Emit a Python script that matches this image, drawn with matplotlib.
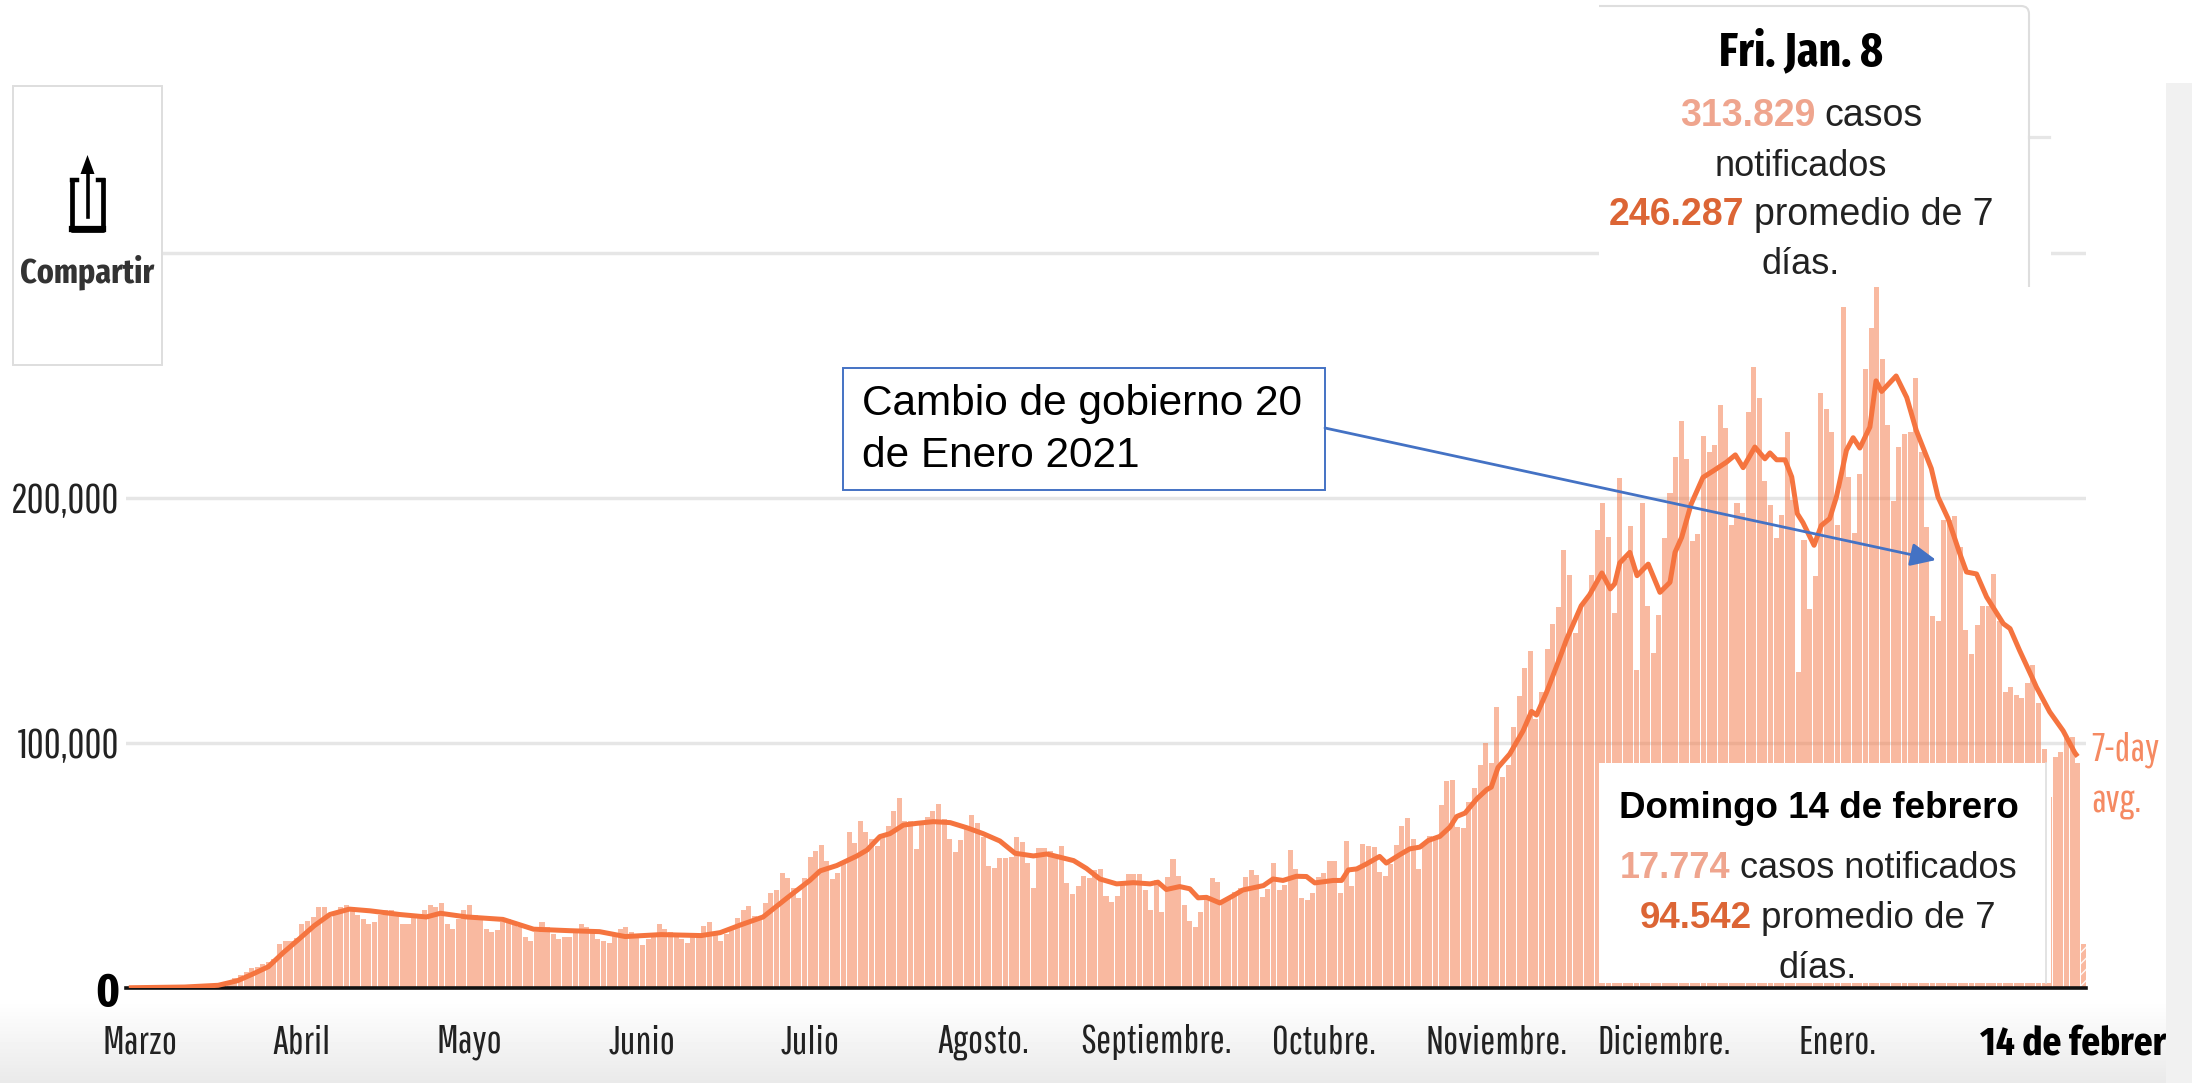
import numpy as np
import matplotlib
matplotlib.use("Agg")
import matplotlib.pyplot as plt
from matplotlib.patches import Rectangle, PathPatch, Polygon
from matplotlib.path import Path

# Daily reported cases, in thousands
marzo = [0.05,0.05,0.1,0.1,0.1,0.1,0.2,0.2,0.3,0.4,0.5,0.5,0.7,0.7,0.8,1.0,1.3,1.6,2.5,4,5.5,6.5,8,8.5,10,10.5,12,18,19,19,20.5]
abril = [26,27.5,29,33,33,29,31,33,34,33,30,28,26,27,30,32,32,30,26,26,29,30,32,34,33,34.5,26,24,28,32]
mayo = [34,30,28,24,23,23.5,27,28,27,25,21,19,23,27,25,22,20,21,21,24,26,25,23,20,19,18.5,22,24,25,23,21]
junio = [17.5,20,21,26,24,23,21,20,18.5,21,22,25.4,27,23,19.2,22,24,28.7,31.8,33.6,29.4,28,34.6,38.6,40,46.8,45,41,36.6,45]
julio = [53.6,56,58.2,52,44.5,46.8,52,63.5,59.3,68,63.5,61,58,63,66,72.4,77.4,68,68,56.6,68,70,72.4,75,68.8,60.7,55.6,60.4,65.8,70.6,67.5]
agosto = [61.8,49.8,48.8,52.9,52.9,53.6,61.5,59.7,51,41,57,57,55.9,54,58,43,38.4,41.6,45.7,44.8,48,48.4,37.7,35.3,37.7,42,46.6,46.6,46.6,39.8,31.9]
septiembre = [43.9,31.2,45.2,52.5,45.9,34,27.5,24.8,31,37,45,43.2,36,37,39,41,45.2,48,46,37,40.5,51,39.8,42,56.4,48.4,36.6,36,38.7,45.5]
octubre = [46.9,51.8,52,38.7,60,41.5,49,58.9,57.9,57.5,47.3,45.9,50.7,58.2,66.3,69.5,60.9,48.4,58.9,62,62,74.8,84.3,85,65.7,65.4,76,81.6,91.1,100,92]
noviembre = [114.6,86,91,106.4,119,130.5,137.4,110,121,138.4,148.6,155.4,178.8,168.7,145,155,159,168.7,187,197.8,184,153,208,175,188.7,129.8,197.8,155.8,136.6,152.4]
diciembre = [183.5,201.9,216.6,231.6,215.9,182.3,185.3,225.4,218.6,221.8,238,228.6,189,197.8,194,235,253.5,240.8,207,197,183.8,193,227,199,129,183,154.6,168,242.9,236.5,227]
enero = [188.8,278,208.6,185.7,210,252.8,269.5,313.8,256.6,230,198.8,221,226,226.8,249,218.8,188,151.8,150,190.9,191,192.5,180,146,136.5,148,155.8,156,169,150,121]
febrero = [123,119.5,118.5,124.6,132,116.5,97.4,78,94.3,96.3,102,102.4,92,17.8]

# 7-day average: day number since 1 March, thousands of cases
avg_day = [0,10,16,19.5,22.2,25,27.7,30.5,33.2,36,39.5,43.2,48.5,53.3,55.8,60.5,67,72.5,78.9,84.3,88.9,95.3,102.5,105.9,109.5,113.6,117.8,122,123.8,126.8,130.4,132.2,134.5,136.3,138.7,141.1,144.1,147.1,150.1,153,156,158.7,162,164.4,169.2,171.5,173.9,176.9,179.9,182.9,184.3,185.8,188.2,190,191.5,193,195.4,197.8,199.5,203.2,204.9,206.7,209.1,210.9,212.4,215.7,217.2,218.4,219.9,221.7,224,225.2,227.6,229.4,231.2,232.7,234.8,236.6,237.8,239.3,241.4,243.2,244,245.2,247.3,249.7,251.2,252.1,253.9,256.3,257.5,260.1,261.6,263.8,265.3,266.1,267,268.8,270.1,272.1,274.2,276,276.9,278.1,279.8,281.9,283.7,286.1,287.7,289.1,291.2,293,293.9,295.1,296.6,297.8,298.8,299.8,301.8,303.1,304.6,305.8,307.6,308.8,310,311.8,312.9,313.9,316.5,318.4,320.1,322.8,324,325.8,327.9,329.1,330.9,332.7,335.7,336.9,338.6,341,341.6,344,346.4,348.5,349]
avg_cases = [0.1,0.4,1.1,3,5.7,8.7,14.5,20,25.4,30,32.2,31.5,30,29,30.5,29,28,24,23.4,23,21,21.8,21.4,22.6,25.7,29,36.6,44,47.8,50,53.9,56.3,61.8,63,66.5,67.2,67.9,67.5,65.4,63,60,55,53.9,54.7,52,48.8,44.5,42.5,43,42.5,43.2,40.2,41.4,40.5,36.8,37,34.7,37.7,40,41.8,44.5,43.9,45.6,45.5,42.9,43.9,43.9,48.2,48.6,50.7,53.7,51,54.4,56.8,57.5,60.2,61.9,65.7,70,71.4,77.2,81,82,90,95.5,105,112.9,111.4,120.7,135,142.4,156,160.5,169.4,162.9,165,173.5,177.8,168.3,173,161.5,165.6,177.8,184,197.6,208.4,211,214.6,217.6,212.4,220.8,216,218.4,215.6,215.6,208.6,193.6,190,180.7,188.8,191.6,200.4,219.5,224.6,220.4,229,247.8,243.5,249.8,241,227.6,212,200.4,191.6,177.3,169.8,169,159.6,148.7,146.7,137.8,126,122.9,112.7,105,96,94.5]

month_days = [2,31,61,92,122,153,184,214,245,275,306,350]
month_labels = ["Marzo","Abril","Mayo","Junio","Julio","Agosto.","Septiembre.","Octubre.","Noviembre.","Diciembre.","Enero.","14 de febrero"]
y_ticks = [0,100,200,300]
y_labels = ["0","100,000","200,000",""]

cases = np.array(marzo+abril+mayo+junio+julio+agosto+septiembre+octubre+noviembre+diciembre+enero+febrero)
days = np.arange(len(cases))

W, H = 2192, 1083
THIN = ["Pathway Gothic One", "Liberation Sans"]
BOLDC = ["Fira Sans Extra Condensed", "Liberation Sans"]
ARIAL = ["Liberation Sans", "DejaVu Sans"]
plt.rcParams["font.family"] = ARIAL

fig = plt.figure(figsize=(W/100, H/100), dpi=100, facecolor="white")

# background gradient
bg = fig.add_axes([0,0,1,1], zorder=0)
grad = np.ones((H,1))
grad[1000:,0] = np.linspace(1.0, 0.915, H-1000)
bg.imshow(grad, cmap="gray", vmin=0, vmax=1, aspect="auto", extent=(0,W,H,0))
bg.axis("off")

# main chart
left, right, base, top = 126, 2086, 988, 100
ax = fig.add_axes([left/W, (H-base)/H, (right-left)/W, (base-top)/H], zorder=1)
ax.patch.set_visible(False)
ax.set_xlim(-0.5, 350.5)
ax.set_ylim(0, (base-top)/2.45)
bars = ax.bar(days, cases, width=0.9, color=(0.96,0.46,0.26,0.5), linewidth=0, zorder=2)
bars[-1].set(hatch="///", edgecolor=(1,1,1,0.9), linewidth=0)
ax.plot(avg_day, avg_cases, color="#F5743F", lw=3.6, solid_joinstyle="round", solid_capstyle="butt", zorder=4)

ax.set_yticks(y_ticks)
ax.set_yticklabels(y_labels, family=THIN, fontsize=30, color="#222222")
ax.set_xticks(month_days)
ax.set_xticklabels(month_labels, family=THIN, fontsize=29, color="#222222")
ax.tick_params(axis="both", length=0)
ax.tick_params(axis="y", pad=5)
ax.tick_params(axis="x", pad=26)
ax.get_yticklabels()[0].set(family=BOLDC, fontweight="bold", fontsize=34, color="black")
ax.get_xticklabels()[-1].set(family=BOLDC, fontweight="bold", fontsize=29, color="black")
ax.yaxis.grid(True, color="#E6E6E6", lw=2.5, zorder=1)
ax.set_axisbelow(True)
for s in ["top","left","right"]:
    ax.spines[s].set_visible(False)
ax.spines["bottom"].set(color="#111111", linewidth=2.6, zorder=3)

# overlay in picture pixels
ov = fig.add_axes([0,0,1,1], zorder=3)
ov.set_xlim(0,W); ov.set_ylim(H,0); ov.axis("off"); ov.patch.set_visible(False)
r = fig.canvas.get_renderer()
GRAY = "#DEDEDE"
INK = "#222222"

def runs(cx, cy, parts, size):
    objs, total = [], 0
    for s, col, wt in parts:
        t = ov.text(0, cy, s, color=col, fontweight=wt, fontsize=size, family=ARIAL, va="center_baseline", ha="left", zorder=8)
        w = t.get_window_extent(r).width
        objs.append((t,w)); total += w
    total += 9*(len(parts)-1)
    x = cx - total/2
    for t,w in objs:
        t.set_x(x); x += w + 9

# right strip
ov.add_patch(Rectangle((2166,83), W-2166, H-83, fc="#F1F1F1", ec="none", zorder=2))

# share box
ov.add_patch(Rectangle((12.5,86), 149, 279, fc="white", ec=GRAY, lw=1.4, zorder=3))
ov.plot([72,72,103,103],[180,230,230,180], color="black", lw=3.4, solid_joinstyle="round", zorder=4)
ov.plot([72,103],[229,229], color="black", lw=4.5, zorder=4)
ov.plot([72,77],[180,180], color="black", lw=3.2, zorder=4)
ov.plot([103,98],[180,180], color="black", lw=3.2, zorder=4)
ov.plot([87.5,87.5],[170,217], color="black", lw=2.6, zorder=4)
ov.add_patch(Polygon([[87.5,155],[80.5,174],[94.5,174]], fc="black", ec="none", zorder=4))
ov.text(87, 272, "Compartir", family=BOLDC, fontweight="bold", fontsize=25, color="#333333", ha="center", va="center", zorder=4)

# top tooltip
ov.add_patch(Rectangle((1599,6), 430, 281, fc="white", ec="none", zorder=5))
ov.add_patch(Rectangle((2029,146), 22, 141, fc="white", ec="none", zorder=5))
ov.plot([2029,2049],[137,137], color="#E6E6E6", lw=2.3, zorder=5)
ov.add_patch(PathPatch(Path([(1599,6),(2021,6),(2029,6),(2029,14),(2029,287)],
                            [Path.MOVETO,Path.LINETO,Path.CURVE3,Path.CURVE3,Path.LINETO]),
                       fc="none", ec=GRAY, lw=1.5, zorder=6))
ov.text(1801, 53, "Fri. Jan. 8", family=BOLDC, fontweight="bold", fontsize=34, color="black", ha="center", va="center", zorder=8)
runs(1801, 112, [("313.829","#EFA58E","bold"),("casos",INK,"normal")], 27)
runs(1801, 162, [("notificados",INK,"normal")], 26)
runs(1801, 211, [("246.287","#DC6535","bold"),("promedio de 7",INK,"normal")], 27)
runs(1801, 261, [("días.",INK,"normal")], 26)

# bottom tooltip
ov.add_patch(Rectangle((1599,763), 452, 220, fc="white", ec="none", zorder=5))
ov.plot([2046,2046],[763,983], color=GRAY, lw=1.2, zorder=6)
runs(1819, 805, [("Domingo 14 de febrero","black","bold")], 26.5)
runs(1818, 864, [("17.774","#EFA58E","bold"),("casos notificados",INK,"normal")], 26)
runs(1818, 914, [("94.542","#DC6535","bold"),("promedio de 7",INK,"normal")], 26.5)
runs(1818, 964, [("días.",INK,"normal")], 26)

# 7-day label
ov.text(2091, 750, "7-day", family=THIN, fontsize=29, color="#F58A62", ha="left", va="center", zorder=8)
ov.text(2091, 801, "avg.", family=THIN, fontsize=29, color="#F58A62", ha="left", va="center", zorder=8)

# callout
ov.add_patch(Rectangle((843,368), 482, 122, fc="white", ec="#4472C4", lw=1.4, zorder=7))
ov.text(862, 404, "Cambio de gobierno 20", family=ARIAL, fontsize=30.5, color="black", ha="left", va="center", zorder=8)
ov.text(862, 456, "de Enero 2021", family=ARIAL, fontsize=30.5, color="black", ha="left", va="center", zorder=8)
ov.annotate("", xy=(1936,560), xytext=(1325,428), zorder=7,
            arrowprops=dict(arrowstyle="-|>,head_length=0.7,head_width=0.32", color="#4472C4", lw=2, mutation_scale=22, shrinkA=0, shrinkB=0))

fig.savefig("out.png", dpi=100)
